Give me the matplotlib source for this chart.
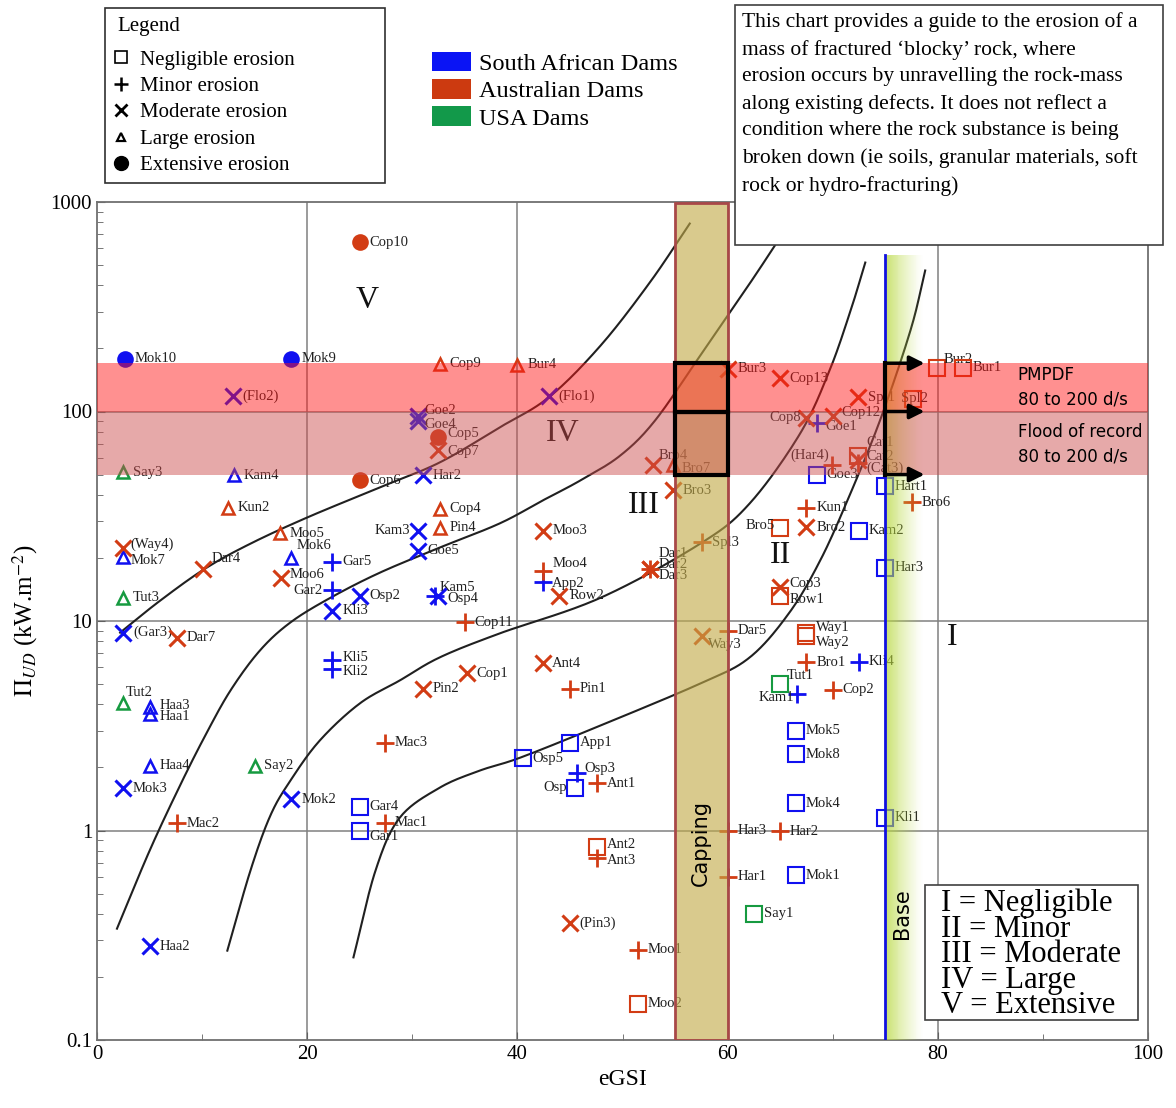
import numpy as np
import matplotlib
matplotlib.use("Agg")
import matplotlib.pyplot as plt
from matplotlib.lines import Line2D
from matplotlib.patches import Patch, Rectangle

plt.rcParams['font.family'] = ['Liberation Serif', 'DejaVu Serif']
plt.rcParams['mathtext.fontset'] = 'stix'

# ---- data: (label, eGSI, stream power, erosion class) per country ----
SA_names = ['Mok10', 'Mok9', '(Flo2)', 'Kam4', 'Mok7', 'Mok6', 'Gar5', 'Gar2', 'Osp2', 'Kli3',
            '(Gar3)', 'Kli5', 'Kli2', 'Haa3', 'Haa1', 'Haa4', 'Mok3', 'Mok2', 'Gar4', 'Gar1',
            'Haa2', 'Goe2', 'Goe4', 'Har2', 'Kam3', 'Goe5', 'Kam5', 'Osp4', 'App2', '(Flo1)',
            'App1', 'Osp5', 'Osp3', 'Osp', 'Goe1', 'Goe3', 'Hart1', 'Kam2', 'Har3', 'Kli4',
            'Kam1', 'Mok5', 'Mok8', 'Mok4', 'Kli1', 'Mok1']
SA_egsi = [2.7, 18.5, 12.9, 13.0, 2.5, 18.5, 22.4, 22.4, 25.0, 22.4,
           2.5, 22.4, 22.4, 5.0, 5.0, 5.0, 2.5, 18.5, 25.0, 25.0,
           5.0, 30.5, 30.5, 31.0, 30.5, 30.5, 32.2, 32.4, 42.4, 43.0,
           45.0, 40.5, 45.7, 45.5, 68.5, 68.5, 75.0, 72.5, 75.0, 72.5,
           66.6, 66.5, 66.5, 66.5, 75.0, 66.5]
SA_power = [179, 179, 118, 49.5, 20.1, 19.9, 19.2, 14.0, 13.2, 11.2,
            8.8, 6.5, 5.9, 3.9, 3.6, 2.04, 1.59, 1.41, 1.30, 1.0,
            0.28, 95, 89.7, 49.5, 27.0, 21.7, 13.2, 13.2, 15.3, 118,
            2.63, 2.21, 1.89, 1.60, 88.6, 50.0, 43.9, 27.0, 18.0, 6.4,
            4.5, 3.0, 2.31, 1.35, 1.15, 0.61]
SA_class = ['E', 'E', 'Mo', 'L', 'L', 'L', 'Mi', 'Mi', 'Mo', 'Mo',
            'Mo', 'Mi', 'Mi', 'L', 'L', 'L', 'Mo', 'Mo', 'N', 'N',
            'Mo', 'Mo', 'Mo', 'Mo', 'Mo', 'Mo', 'Mi', 'Mo', 'Mi', 'Mo',
            'N', 'N', 'Mi', 'N', 'Mi', 'N', 'N', 'N', 'N', 'Mi',
            'Mi', 'N', 'N', 'N', 'N', 'N']

AU_names = ['Cop10', 'Cop6', 'Cop5', 'Kun2', 'Moo5', '(Way4)', 'Dar4', 'Moo6', 'Dar7', 'Mac3',
            'Mac2', 'Mac1', 'Pin2', 'Cop9', 'Bur4', 'Cop7', 'Cop4', 'Pin4', 'Moo3', 'Moo4',
            'Row2', 'Cop11', 'Cop1', 'Ant4', 'Pin1', 'Ant1', 'Ant2', 'Ant3', '(Pin3)', 'Moo1',
            'Moo2', 'Dar1', 'Dar2', 'Dar3', 'Bro4', 'Bro7', 'Bro3', 'Spl3', 'Way3', 'Dar5',
            'Bur3', 'Har3', 'Har1', 'Cop13', 'Spl1', 'Spl2', 'Bur2', 'Bur1', 'Cop8', 'Cop12',
            '(Har4)', 'Cat1', 'Cat2', '(Cat3)', 'Bro6', 'Kun1', 'Bro5', 'Bro2', 'Cop3', 'Row1',
            'Way1', 'Way2', 'Bro1', 'Cop2', 'Har2']
AU_egsi = [25.0, 25.0, 32.4, 12.5, 17.4, 2.5, 10.1, 17.5, 7.6, 27.4,
           7.6, 27.4, 31.0, 32.6, 40.0, 32.4, 32.6, 32.6, 42.4, 42.4,
           44.0, 35.0, 35.2, 42.4, 45.0, 47.6, 47.6, 47.6, 45.0, 51.5,
           51.5, 52.6, 52.6, 52.6, 52.9, 54.8, 54.8, 57.6, 57.6, 60.0,
           60.0, 60.0, 60.0, 65.0, 72.4, 77.6, 79.9, 82.4, 67.5, 70.0,
           69.9, 72.4, 72.4, 72.4, 77.5, 67.5, 65.0, 67.5, 65.0, 65.0,
           67.5, 67.5, 67.5, 70.0, 65.0]
AU_power = [641, 46.9, 75.2, 34.8, 26.2, 22.2, 17.8, 16.0, 8.3, 2.63,
            1.08, 1.09, 4.76, 169, 167, 65.2, 34.4, 27.9, 27.0, 17.4,
            13.2, 9.84, 5.62, 6.27, 4.76, 1.68, 0.83, 0.74, 0.36, 0.27,
            0.149, 17.8, 17.8, 17.8, 55.3, 55.3, 42.0, 23.7, 8.5, 9.0,
            160, 1.0, 0.60, 144, 117, 115, 162, 162, 93.6, 94.9,
            55.3, 61.0, 58.5, 57.0, 36.8, 34.8, 27.7, 28.0, 14.5, 13.1,
            8.8, 8.5, 6.34, 4.71, 0.99]
AU_class = ['E', 'E', 'E', 'L', 'L', 'Mo', 'Mo', 'Mo', 'Mo', 'Mi',
            'Mi', 'Mi', 'Mo', 'L', 'L', 'Mo', 'L', 'L', 'Mo', 'Mi',
            'Mo', 'Mi', 'Mo', 'Mo', 'Mi', 'Mi', 'N', 'Mi', 'Mo', 'Mi',
            'N', 'Mo', 'Mi', 'Mo', 'Mo', 'L', 'Mo', 'Mi', 'Mo', 'Mi',
            'Mo', 'Mi', 'Mi', 'Mo', 'Mo', 'N', 'N', 'N', 'Mo', 'Mo',
            'Mi', 'N', 'Mo', 'Mi', 'Mi', 'Mi', 'N', 'Mo', 'Mo', 'N',
            'N', 'N', 'Mi', 'Mi', 'Mi']

US_names = ['Say3', 'Tut3', 'Tut2', 'Say2', 'Tut1', 'Say1']
US_egsi = [2.5, 2.5, 2.5, 15.0, 65.0, 62.5]
US_power = [51.2, 12.9, 4.04, 2.04, 5.03, 0.40]
US_class = ['L', 'L', 'L', 'L', 'N', 'N']

# erosion class boundary curves (eGSI, power)
curve1_x = [2.2, 6.0, 10.3, 14.6, 20.0, 26.9, 32.6, 38.3, 43.0, 47.9, 52.6, 56.4]
curve1_y = [8.8, 12.5, 17.8, 23.4, 31.2, 43.4, 57.1, 83.9, 117, 206, 413, 789]
curve2_x = [1.9, 5.0, 7.9, 10.3, 12.7, 15.5, 18.4, 22.2, 26.9, 32.6, 38.3, 42.4, 46.0, 49.8, 53.1, 57.4, 62.1, 64.5]
curve2_y = [0.34, 0.80, 1.64, 2.84, 4.66, 7.23, 9.84, 12.9, 17.0, 22.4, 29.2, 37.6, 46.9, 61.7, 90.6, 185, 408, 620]
curve3_x = [12.4, 14.6, 16.5, 18.4, 21.2, 25.0, 28.8, 32.6, 38.3, 47.9, 57.4, 62.1, 66.9, 69.7, 71.7, 73.1]
curve3_y = [0.267, 0.644, 1.18, 1.73, 2.69, 4.04, 5.20, 6.70, 8.72, 12.9, 23.4, 36.4, 78.5, 157, 303, 514]
curve4_x = [24.4, 26.5, 28.8, 32.6, 36.4, 40.3, 47.9, 57.4, 62.1, 65.9, 68.8, 71.4, 74.5, 77.4, 78.8]
curve4_y = [0.248, 0.644, 1.15, 1.60, 1.93, 2.23, 3.17, 5.03, 6.70, 11.0, 19.4, 37.6, 90.6, 244, 471]

region_labels = ['V', 'IV', 'III', 'II', 'I']
region_x = [25.7, 44.3, 52.0, 65.0, 81.4]
region_y = [338, 78.5, 35.6, 20.5, 8.3]

COL = {'SA': '#1010f0', 'AU': '#d23c14', 'US': '#169a40'}
MK = {'N': dict(marker='s', mfc='none', ms=11, mew=1.5),
      'Mi': dict(marker='+', ms=13, mew=2.0),
      'Mo': dict(marker='x', ms=11, mew=2.2),
      'L': dict(marker='^', mfc='none', ms=8.5, mew=1.8),
      'E': dict(marker='o', ms=12, mew=0)}

# label offsets (points) where the label is not simply to the right
OFFS = {('Dar4', 'AU'): (6, 7), ('Mok6', 'SA'): (4, 9), ('Moo6', 'AU'): (6, 3),
        ('Gar2', 'SA'): (-7, 0), ('Tut2', 'US'): (2, 8), ('Kam3', 'SA'): (-5, 0),
        ('Kam5', 'SA'): (3, 6), ('Osp4', 'SA'): (7, -2), ('Gar1', 'SA'): (7, -4),
        ('Goe2', 'SA'): (5, 4), ('Goe4', 'SA'): (5, -2), ('Bro4', 'AU'): (4, 7),
        ('Dar1', 'AU'): (6, 11), ('Dar2', 'AU'): (6, 3), ('Dar3', 'AU'): (6, -5),
        ('Way3', 'AU'): (4, -6), ('Osp', 'SA'): (-6, 0), ('Spl2', 'AU'): (-8, 0),
        ('Bur2', 'AU'): (5, 6), ('Cop8', 'AU'): (-4, 0), ('(Har4)', 'AU'): (-2, 7),
        ('Cat1', 'AU'): (6, 10), ('Cat2', 'AU'): (6, 3), ('(Cat3)', 'AU'): (6, -4),
        ('Bro5', 'AU'): (-4, 2), ('Kam1', 'SA'): (-2, -3), ('Tut1', 'US'): (5, 6),
        ('Way1', 'AU'): (7, 4), ('Way2', 'AU'): (7, -5), ('(Way4)', 'AU'): (5, 3),
        ('Mok7', 'SA'): (5, -2), ('Haa3', 'SA'): (7, 1), ('Haa1', 'SA'): (7, -2),
        ('Moo4', 'AU'): (7, 5), ('App2', 'SA'): (7, -1), ('Cop5', 'AU'): (7, 3),
        ('Cop7', 'AU'): (7, -1), ('Kli5', 'SA'): (7, 2), ('Kli2', 'SA'): (7, -2),
        ('Ant2', 'AU'): (7, 2), ('Ant3', 'AU'): (7, -2), ('Osp3', 'SA'): (5, 3),
        ('Bro7', 'AU'): (6, -2), ('Cop3', 'AU'): (7, 3), ('Row1', 'AU'): (7, -2),
        ('Cop12', 'AU'): (6, 3), ('Goe1', 'SA'): (6, -3)}
RIGHT_ALIGNED = {('Gar2', 'SA'), ('Kam3', 'SA'), ('Osp', 'SA'), ('Cop8', 'AU'),
                 ('(Har4)', 'AU'), ('Bro5', 'AU'), ('Kam1', 'SA')}


def smooth(xs, ys, n=20):
    P = np.column_stack([xs, np.log10(ys)])
    P = np.vstack([2 * P[0] - P[1], P, 2 * P[-1] - P[-2]])
    out = []
    t = np.linspace(0, 1, n, endpoint=False)[:, None]
    for i in range(1, len(P) - 2):
        p0, p1, p2, p3 = P[i - 1], P[i], P[i + 1], P[i + 2]
        out.append(0.5 * (2 * p1 + (-p0 + p2) * t + (2 * p0 - 5 * p1 + 4 * p2 - p3) * t ** 2
                          + (-p0 + 3 * p1 - 3 * p2 + p3) * t ** 3))
    out.append(P[-2][None])
    pts = np.vstack(out)
    return pts[:, 0], 10 ** pts[:, 1]


fig = plt.figure(figsize=(11.76, 11.08), dpi=100)
ax = fig.add_axes([97 / 1176, 1 - 1040 / 1108, 1051 / 1176, 838 / 1108])
ax.set_yscale('log')
ax.set_xlim(0, 100)
ax.set_ylim(0.1, 1000)

# grid
for gx in [20, 40, 60, 80]:
    ax.axvline(gx, color='#808080', lw=1.1, zorder=0.5)
for gy in [1, 10, 100]:
    ax.axhline(gy, color='#808080', lw=1.1, zorder=0.5)

# boundary curves
for cx, cy in [(curve1_x, curve1_y), (curve2_x, curve2_y), (curve3_x, curve3_y), (curve4_x, curve4_y)]:
    sx, sy = smooth(cx, cy)
    ax.plot(sx, sy, color='#202020', lw=1.5, zorder=2.5)

# data points
for names, xs, ys, cls, ctry in [(SA_names, SA_egsi, SA_power, SA_class, 'SA'),
                                 (AU_names, AU_egsi, AU_power, AU_class, 'AU'),
                                 (US_names, US_egsi, US_power, US_class, 'US')]:
    c = COL[ctry]
    for nm, x, y, k in zip(names, xs, ys, cls):
        st = dict(MK[k])
        if k == 'E':
            st['mfc'] = c
        ax.plot([x], [y], linestyle='none', color=c, mec=c, zorder=3, **st)
        dx, dy = OFFS.get((nm, ctry), (7, 0))
        ha = 'right' if (nm, ctry) in RIGHT_ALIGNED else 'left'
        ax.annotate(nm, (x, y), xytext=(dx, dy), textcoords='offset points',
                    ha=ha, va='center', fontsize=10.5, color='#202020', zorder=3)

# region numerals
for lab, rx, ry in zip(region_labels, region_x, region_y):
    ax.text(rx, ry, lab, fontsize=23, ha='center', va='center', color='#111111', zorder=3)

# capping zone
ax.add_patch(Rectangle((55, 0.1), 5, 990, facecolor='#c2aa48', alpha=0.62,
                       edgecolor='none', zorder=4))
ax.add_patch(Rectangle((55, 0.1), 5, 990, facecolor='none', edgecolor='#a84848',
                       lw=2, zorder=4.2))
ax.text(57.5, 0.87, 'Capping', rotation=90, ha='center', va='center', fontsize=15,
        family='DejaVu Sans', color='black', zorder=7)

# base zone (gradient)
nsl = 40
edges = np.linspace(75, 78.6, nsl + 1)
for i in range(nsl):
    a = 0.75 * (1 - i / nsl) ** 1.3
    ax.fill_betweenx([0.1, 556], edges[i], edges[i + 1], color='#b8d840', alpha=a,
                     lw=0, zorder=4)
ax.plot([75, 75], [0.1, 556], color='#1010e0', lw=2, zorder=4.5)
ax.text(76.6, 0.40, 'Base', rotation=90, ha='center', va='center', fontsize=15,
        family='DejaVu Sans', color='black', zorder=7)

# flood bands
ax.axhspan(100, 170, color='#ff1818', alpha=0.48, lw=0, zorder=5)
ax.axhspan(50, 100, color='#cc4c4c', alpha=0.48, lw=0, zorder=5)
ax.text(87.6, 130, 'PMPDF\n80 to 200 d/s', fontsize=12, family='DejaVu Sans',
        va='center', ha='left', zorder=7, linespacing=1.45)
ax.text(87.6, 70, 'Flood of record\n80 to 200 d/s', fontsize=12, family='DejaVu Sans',
        va='center', ha='left', zorder=7, linespacing=1.45)

# black boxes and arrows
ax.add_patch(Rectangle((55, 100), 5, 70, fill=False, edgecolor='black', lw=3, zorder=6))
ax.add_patch(Rectangle((55, 50), 5, 50, fill=False, edgecolor='black', lw=3, zorder=6))
ax.plot([75, 75], [50, 170], color='black', lw=3, zorder=6)
for ay in [170, 100, 50]:
    ax.annotate('', xy=(79.0, ay), xytext=(74.9, ay),
                arrowprops=dict(arrowstyle='-|>', color='black', lw=2.5, mutation_scale=22),
                zorder=6)

# axes styling
ax.set_xticks([0, 20, 40, 60, 80, 100])
ax.set_xticks([10, 30, 50, 70, 90], minor=True)
ax.set_yticks([0.1, 1, 10, 100, 1000])
ax.set_yticklabels(['0.1', '1', '10', '100', '1000'])
ax.tick_params(which='both', direction='in', labelsize=15, color='#606060')
ax.tick_params(which='major', length=6)
ax.tick_params(which='minor', length=4)
for sp in ax.spines.values():
    sp.set_color('#707070')
    sp.set_linewidth(1.3)
ax.set_xlabel('eGSI', fontsize=17, labelpad=4)
ax.set_ylabel(r'$\Pi_{UD}$ (kW.m$^{-2}$)', fontsize=18, labelpad=8)

# erosion legend (frame drawn separately to match its width)
fig.add_artist(Rectangle((105 / 1176, 1 - 183 / 1108), 280 / 1176, 175 / 1108,
                         transform=fig.transFigure, facecolor='white',
                         edgecolor='#303030', lw=1.2, zorder=1))
fig.text(117 / 1176, 1 - 26 / 1108, 'Legend', fontsize=15, ha='left', va='center', zorder=2)
mk_handles = [Line2D([], [], marker='s', ls='none', mfc='none', mec='black', ms=9, mew=1.2),
              Line2D([], [], marker='+', ls='none', color='black', ms=10, mew=1.8),
              Line2D([], [], marker='x', ls='none', color='black', ms=8, mew=2),
              Line2D([], [], marker='^', ls='none', mfc='none', mec='black', ms=6, mew=1.6),
              Line2D([], [], marker='o', ls='none', color='black', ms=10)]
fig.legend(mk_handles, ['Negligible erosion', 'Minor erosion', 'Moderate erosion',
                        'Large erosion', 'Extensive erosion'],
           loc='upper left', bbox_to_anchor=(113 / 1176, 1 - 50 / 1108), fontsize=15,
           frameon=False, borderaxespad=0, borderpad=0,
           handlelength=0.8, handletextpad=0.5, labelspacing=0.33)

dam_handles = [Patch(facecolor='#0a14f5'), Patch(facecolor='#cc3a10'), Patch(facecolor='#12994a')]
fig.legend(dam_handles, ['South African Dams', 'Australian Dams', 'USA Dams'],
           loc='upper left', bbox_to_anchor=(432 / 1176, 1 - 52 / 1108), frameon=False,
           fontsize=17.5, handlelength=1.6, handleheight=0.85, labelspacing=0.17,
           handletextpad=0.34, borderaxespad=0, borderpad=0)

# description box
fig.add_artist(Rectangle((735 / 1176, 1 - 245 / 1108), 428 / 1176, 240 / 1108,
                         transform=fig.transFigure, facecolor='white',
                         edgecolor='#404040', lw=1.2, zorder=10))
fig.text(742 / 1176, 1 - 12 / 1108,
         "This chart provides a guide to the erosion of a\n"
         "mass of fractured \u2018blocky\u2019 rock, where\n"
         "erosion occurs by unravelling the rock-mass\n"
         "along existing defects. It does not reflect a\n"
         "condition where the rock substance is being\n"
         "broken down (ie soils, granular materials, soft\n"
         "rock or hydro-fracturing)",
         ha='left', va='top', fontsize=15.5, linespacing=1.53, zorder=11)

# class key box
fig.add_artist(Rectangle((925 / 1176, 1 - 1020 / 1108), 213 / 1176, 135 / 1108,
                         transform=fig.transFigure, facecolor='white',
                         edgecolor='#404040', lw=1.2, zorder=10))
fig.text(941 / 1176, 1 - 889 / 1108,
         "I = Negligible\nII = Minor\nIII = Moderate\nIV = Large\nV = Extensive",
         ha='left', va='top', fontsize=22, linespacing=0.84, zorder=11)

fig.savefig('out.png', dpi=100)
